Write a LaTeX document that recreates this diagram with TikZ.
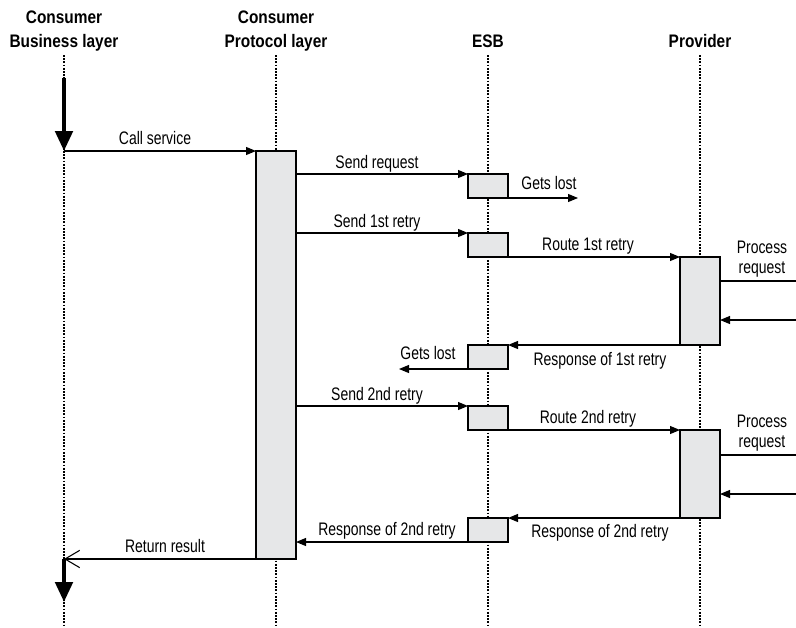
\documentclass[tikz,border=0pt]{standalone}
\usepackage{fontspec}
\setmainfont{Liberation Sans}[FakeStretch=0.77]
\newfontfamily\headfont{Liberation Sans}[FakeStretch=0.85]
\usetikzlibrary{arrows.meta,calc}
\definecolor{boxgray}{HTML}{E6E7E8}
\tikzset{
  lifeline/.style={line width=1.7pt, dash pattern=on 1.4pt off 1.0pt, black},
  actbox/.style={draw=black, fill=boxgray, line width=0.8pt, minimum width=30pt, inner sep=0pt, outer sep=0pt},
  msg/.style={line width=0.8pt, -{Triangle[length=7.5pt,width=6pt]}},
  plainmsg/.style={line width=0.8pt},
  retmsg/.style={line width=0.8pt, -{Straight Barb[length=11pt,width=13pt,line width=0.8pt]}},
  flow/.style={line width=3pt, -{Triangle[length=15pt,width=13pt]}},
  lbl/.style={anchor=base, inner sep=0pt, font=\fontsize{13.6}{16}\selectfont},
  head/.style={anchor=base, inner sep=0pt, font=\headfont\bfseries\fontsize{13.6}{16}\selectfont},
}
\begin{document}
\begin{tikzpicture}[x=0.75pt,y=-0.75pt]
\useasboundingbox (0,0) rectangle (796,628);
% headers
\node[head] (h1a) at (64,23) {Consumer};
\node[head] (h1b) at (64,47) {Business layer};
\node[head] (h2a) at (276,23) {Consumer};
\node[head] (h2b) at (276,47) {Protocol layer};
\node[head] (h3) at (488,47) {ESB};
\node[head] (h4) at (700,47) {Provider};
% lifelines
\coordinate (l1t) at (64,55);  \coordinate (l1b) at (64,628);
\coordinate (l2t) at (276,55); \coordinate (l2b) at (276,628);
\coordinate (l3t) at (488,55); \coordinate (l3b) at (488,628);
\coordinate (l4t) at (700,55); \coordinate (l4b) at (700,628);
\draw[lifeline] (l1t) -- (l1b);
\draw[lifeline] (l2t) -- (l2b);
\draw[lifeline] (l3t) -- (l3b);
\draw[lifeline] (l4t) -- (l4b);
% activation boxes
\node[actbox, anchor=north, minimum height=306pt] (p1) at (276,151) {};
\node[actbox, anchor=north, minimum height=18pt] (e1) at (488,174) {};
\node[actbox, anchor=north, minimum height=18pt] (e2) at (488,233) {};
\node[actbox, anchor=north, minimum height=18pt] (e3) at (488,345) {};
\node[actbox, anchor=north, minimum height=18pt] (e4) at (488,406) {};
\node[actbox, anchor=north, minimum height=18pt] (e5) at (488,518) {};
\node[actbox, anchor=north, minimum height=66pt] (v1) at (700,257) {};
\node[actbox, anchor=north, minimum height=66pt] (v2) at (700,430) {};
% business-layer flow
\coordinate (f1s) at (64,78);
\coordinate (call) at (64,151);
\coordinate (ret) at (64,559);
\coordinate (f2e) at (64,602);
\draw[flow] (f1s) -- (call);
\draw[flow] (ret) -- (f2e);
% messages
\draw[msg] (call) -- (p1.north west);
\node[lbl] (t1) at (155,144) {Call service};
\draw[msg] (p1.east |- e1.north west) -- (e1.north west);
\node[lbl] (t2) at (377,168) {Send request};
\coordinate (lost1) at (578,198);
\draw[msg] (e1.south east) -- (lost1);
\node[lbl] (t3) at (549,189) {Gets lost};
\draw[msg] (p1.east |- e2.north west) -- (e2.north west);
\node[lbl] (t4) at (377,227) {Send 1st retry};
\draw[msg] (e2.south east) -- (v1.north west);
\node[lbl] (t5) at (588,250) {Route 1st retry};
\node[lbl] (t6a) at (762,253) {Process};
\node[lbl] (t6b) at (762,273) {request};
\coordinate (out1) at (796,281);
\coordinate (in1) at (796,320);
\draw[plainmsg] (v1.east |- out1) -- (out1);
\draw[msg] (in1) -- (v1.east |- in1);
\draw[msg] (v1.south west) -- (e3.north east);
\node[lbl] (t7) at (600,365) {Response of 1st retry};
\coordinate (lost2) at (399,369);
\draw[msg] (e3.south west) -- (lost2);
\node[lbl] (t8) at (428,359) {Gets lost};
\draw[msg] (p1.east |- e4.north west) -- (e4.north west);
\node[lbl] (t9) at (377,400) {Send 2nd retry};
\draw[msg] (e4.south east) -- (v2.north west);
\node[lbl] (t10) at (588,423) {Route 2nd retry};
\node[lbl] (t11a) at (762,427) {Process};
\node[lbl] (t11b) at (762,447) {request};
\coordinate (out2) at (796,455);
\coordinate (in2) at (796,494);
\draw[plainmsg] (v2.east |- out2) -- (out2);
\draw[msg] (in2) -- (v2.east |- in2);
\draw[msg] (v2.south west) -- (e5.north east);
\node[lbl] (t12) at (600,537) {Response of 2nd retry};
\draw[msg] (e5.south west) -- (p1.east |- e5.south west);
\node[lbl] (t13) at (387,535) {Response of 2nd retry};
\draw[retmsg] (p1.south west) -- (ret);
\node[lbl] (t14) at (165,552) {Return result};
\end{tikzpicture}
\end{document}
